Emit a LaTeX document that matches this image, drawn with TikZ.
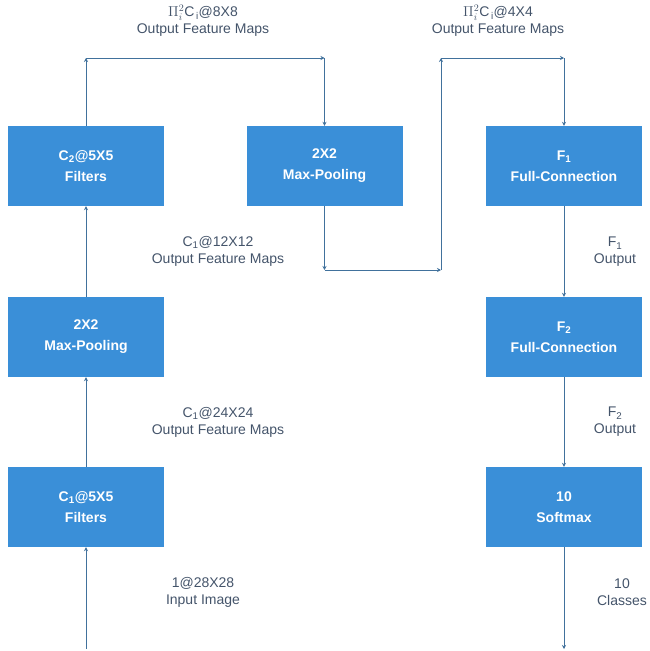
\documentclass[tikz,border=0pt]{standalone}
\usepackage{fontspec}
\setmainfont{Liberation Sans}
\usetikzlibrary{arrows.meta}
\definecolor{boxblue}{HTML}{3A8FD8}
\definecolor{linec}{HTML}{41719C}
\definecolor{labc}{HTML}{44546A}
\begin{document}
\begin{tikzpicture}[x=1pt,y=-1pt,
 blk/.style={fill=boxblue, minimum width=156pt, minimum height=80pt, inner sep=0pt, text=white, font=\fontsize{14}{21}\selectfont\bfseries, align=center},
 lab/.style={text=labc, font=\fontsize{14}{17}\selectfont, align=center},
 conn/.style={draw=linec, line width=0.9pt, -{Stealth[length=4pt,width=4pt]}}]
\useasboundingbox (0,0) rectangle (649,651);
% boxes
\node[blk] (c2) at (86,166) {C\textsubscript{2}@5X5\\Filters};
\node[blk] (mp2) at (324.5,166) {2X2\\Max-Pooling};
\node[blk] (f1) at (564,166) {F\textsubscript{1}\\Full-Connection};
\node[blk] (mp1) at (86,337) {2X2\\Max-Pooling};
\node[blk] (f2) at (564,337) {F\textsubscript{2}\\Full-Connection};
\node[blk] (c1) at (86,507) {C\textsubscript{1}@5X5\\Filters};
\node[blk] (sm) at (564,507) {10\\Softmax};
% labels
\node[lab] (l1) at (203,21) {$\Pi_i^2$C\textsubscript{\,i}@8X8\\Output Feature Maps};
\node[lab] (l2) at (498,21) {$\Pi_i^2$C\textsubscript{\,i}@4X4\\Output Feature Maps};
\node[lab] (l3) at (218,251) {C\textsubscript{1}@12X12\\Output Feature Maps};
\node[lab] (l4) at (218,422) {C\textsubscript{1}@24X24\\Output Feature Maps};
\node[lab] (l5) at (203,592) {1@28X28\\Input Image};
\node[lab] (l6) at (615,252) {F\textsubscript{1}\\Output};
\node[lab] (l7) at (615,422) {F\textsubscript{2}\\Output};
\node[lab] (l8) at (622,592) {10\\Classes};
% coordinates
\coordinate (in) at (86,649);
\coordinate (k1) at (86,58);
\coordinate (k2) at (324.5,58);
\coordinate (k3) at (324.5,270);
\coordinate (k4) at (441,270);
\coordinate (k5) at (441,58);
\coordinate (k6) at (564,58);
\coordinate (out) at (564,649);
% connectors
\draw[conn] (in) -- (c1.south);
\draw[conn] (c1.north) -- (mp1.south);
\draw[conn] (mp1.north) -- (c2.south);
\draw[conn] (c2.north) -- (k1);
\draw[conn] (k1) -- (k2);
\draw[conn] (k2) -- (mp2.north);
\draw[conn] (mp2.south) -- (k3);
\draw[conn] (k3) -- (k4);
\draw[conn] (k4) -- (k5);
\draw[conn] (k5) -- (k6);
\draw[conn] (k6) -- (f1.north);
\draw[conn] (f1.south) -- (f2.north);
\draw[conn] (f2.south) -- (sm.north);
\draw[conn] (sm.south) -- (out);
\end{tikzpicture}
\end{document}
